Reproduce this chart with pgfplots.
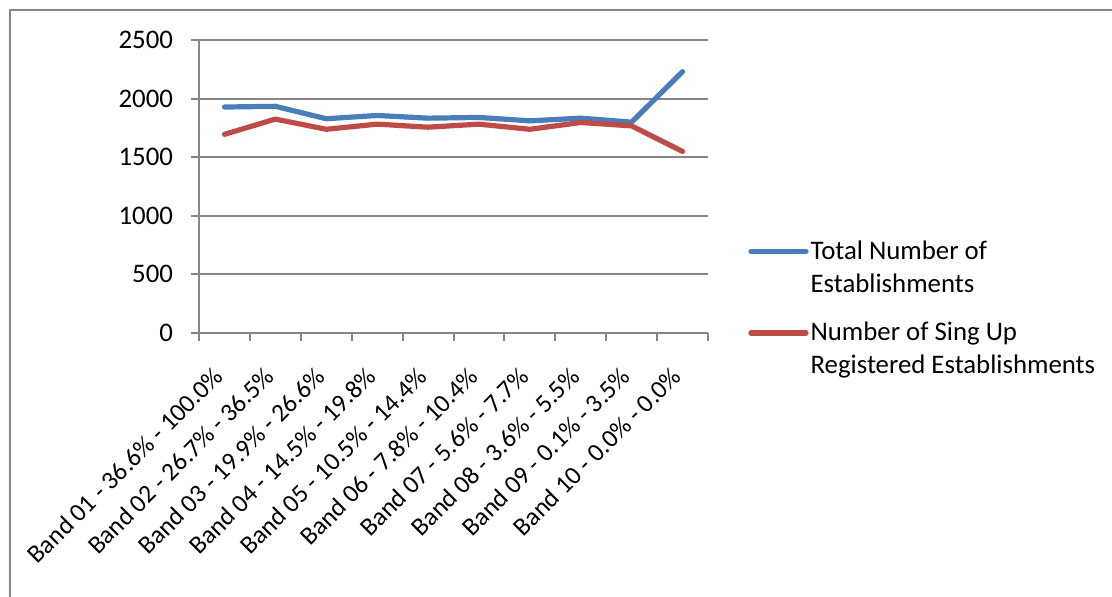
\documentclass[border=0pt]{standalone}
\usepackage{fontspec}
\setmainfont{Carlito}
\usepackage{pgfplots}
\pgfplotsset{compat=1.18}
\definecolor{xlblue}{HTML}{4A7EBB}
\definecolor{xlred}{HTML}{BE4B48}
\definecolor{xlgrid}{HTML}{868686}
\begin{document}
\begin{tikzpicture}[x=1pt,y=1pt]
% 1 px of the reference = 0.5pt; axis box starts at px (199,333)
\useasboundingbox (-99.5,-132) rectangle (456.5,166.5);
\draw[xlgrid, line width=1pt] (-94.5,-140) -- (-94.5,161.5) -- (470,161.5);
\begin{axis}[
    at={(0,0)}, anchor=south west,
    scale only axis,
    width=254.5pt, height=146.5pt,
    xmin=0.5, xmax=10.5,
    ymin=0, ymax=2500,
    ytick={0,500,...,2500},
    xtick={1,...,10},
    xticklabels={Band 01 - 36.6\% - 100.0\%, Band 02 - 26.7\% - 36.5\%,
        Band 03 - 19.9\% - 26.6\%, Band 04 - 14.5\% - 19.8\%,
        Band 05 - 10.5\% - 14.4\%, Band 06 - 7.8\% - 10.4\%,
        Band 07 - 5.6\% - 7.7\%, Band 08 - 3.6\% - 5.5\%,
        Band 09 - 0.1\% - 3.5\%, Band 10 - 0.0\% - 0.0\%},
    minor xtick={0.5,1.5,...,10.5},
    axis x line*=bottom, axis y line*=left,
    axis line style={xlgrid, line width=1pt, -},
    ymajorgrids,
    grid style={xlgrid, line width=1pt},
    tick style={xlgrid, line width=1pt},
    major x tick style={draw=none},
    tick align=outside,
    major tick length=4pt, minor tick length=4pt,
    /pgf/number format/assume math mode=true,
    /pgf/number format/set thousands separator={},
    ticklabel style={font=\fontsize{13.4}{15}\selectfont, text=black},
    xticklabel style={font=\fontsize{12.8}{14}\selectfont,
        yshift=-13pt, xshift=-0.5pt, rotate=45, anchor=east},
    yticklabel style={xshift=-5.5pt},
    legend style={at={(1.0786,0.317)}, anchor=north west, draw=none, fill=none,
        font=\fontsize{13.4}{16.5}\selectfont, cells={align=left},
        row sep=13.5pt, inner sep=0pt, nodes={inner xsep=1pt, inner ysep=0pt}},
    legend cell align=left,
    legend image code/.code={\draw[#1] (0pt,8.25pt) -- (27.5pt,8.25pt);},
    every axis plot/.append style={line width=2.6pt, line cap=round, line join=round},
]
\addplot[xlblue] coordinates {
    (1,1928) (2,1934) (3,1828) (4,1856) (5,1833)
    (6,1839) (7,1810) (8,1833) (9,1799) (10,2230)
};
\addlegendentry{Total Number of\\Establishments}
\addplot[xlred] coordinates {
    (1,1695) (2,1825) (3,1738) (4,1782) (5,1756)
    (6,1782) (7,1738) (8,1796) (9,1767) (10,1549)
};
\addlegendentry{Number of Sing Up\\Registered Establishments}
\end{axis}
\end{tikzpicture}
\end{document}
